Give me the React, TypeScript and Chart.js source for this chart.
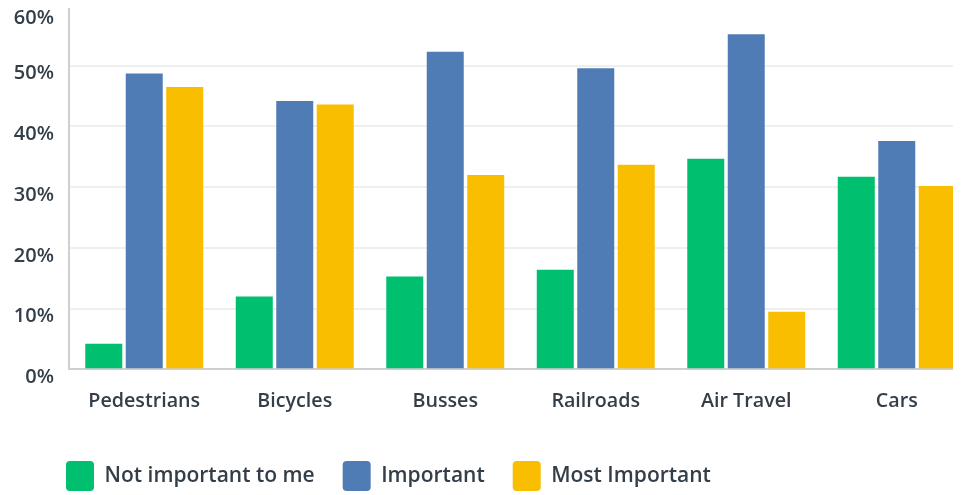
import React, { useEffect, useRef } from "react";
import { Chart, registerables } from "chart.js";

Chart.register(...registerables);

const categories = ["Pedestrians", "Bicycles", "Busses", "Railroads", "Air Travel", "Cars"];
const notImportant = [4.2, 12.0, 15.3, 16.4, 34.7, 31.7];
const important = [48.7, 44.2, 52.3, 49.6, 55.2, 37.6];
const mostImportant = [46.5, 43.6, 32.0, 33.7, 9.5, 30.2];
const seriesNames = ["Not important to me", "Important", "Most Important"];
const seriesColors = ["#00BF6F", "#507CB6", "#F9BE00"];
const yTicks = [0, 10, 20, 30, 40, 50, 60];
const Y_MAX = 60;

const TEXT = "#333E48";
const FONT = "'Open Sans', sans-serif";

const legendShift = {
  id: "legendShift",
  afterLayout(chart: any) {
    const l = chart.legend;
    if (l) {
      l.left += 30;
      l.right += 30;
    }
  },
};

export default function App() {
  const ref = useRef<HTMLCanvasElement | null>(null);
  useEffect(() => {
    if (!ref.current) return;
    const chart = new Chart(ref.current, {
      type: "bar",
      data: {
        labels: categories,
        datasets: [notImportant, important, mostImportant].map((d, i) => ({
          label: seriesNames[i],
          data: d,
          backgroundColor: seriesColors[i],
          borderWidth: 0,
          borderRadius: 0,
          categoryPercentage: 0.807,
          barPercentage: 0.914,
        })),
      },
      options: {
        animation: false,
        responsive: true,
        maintainAspectRatio: false,
        layout: { padding: 0 },
        plugins: {
          tooltip: { enabled: false },
          legend: {
            position: "bottom",
            align: "start",
            labels: {
              boxWidth: 28,
              boxHeight: 30,
              padding: 28,
              useBorderRadius: true,
              borderRadius: 4,
              color: TEXT,
              font: { family: FONT, size: 21, weight: "600" },
            },
          },
        },
        scales: {
          x: {
            grid: { display: false, drawTicks: false },
            border: { display: true, color: "#CFCFCF", width: 2 },
            ticks: {
              color: TEXT,
              padding: 20,
              font: { family: FONT, size: 19.7, weight: "600" },
            },
          },
          y: {
            min: 0,
            max: Y_MAX,
            afterBuildTicks: (scale: any) => {
              scale.ticks = yTicks.map((v) => ({ value: v }));
            },
            afterFit: (scale: any) => {
              scale.width = 61;
            },
            grid: {
              color: (c: any) => (c.tick && c.tick.value === Y_MAX ? "rgba(0,0,0,0)" : "#EFEFEF"),
              lineWidth: 2,
              drawTicks: false,
            },
            border: { display: true, color: "#CFCFCF", width: 2 },
            ticks: {
              color: TEXT,
              padding: 15,
              labelOffset: 8,
              font: (c: any) => ({
                family: FONT,
                size: 20,
                weight: "600",
                lineHeight: c.tick && c.tick.value === Y_MAX ? 0.5 : 1.2,
              }),
              callback: (v: any) => (v === Y_MAX ? ["", v + "%"] : v + "%"),
            },
          },
        },
      },
      plugins: [legendShift],
    });
    return () => chart.destroy();
  }, []);

  return (
    <div style={{ position: "relative", top: -28, width: 953, height: 521, overflow: "hidden" }}>
      <div style={{ width: 964, height: 521 }}>
        <canvas ref={ref} />
      </div>
    </div>
  );
}
